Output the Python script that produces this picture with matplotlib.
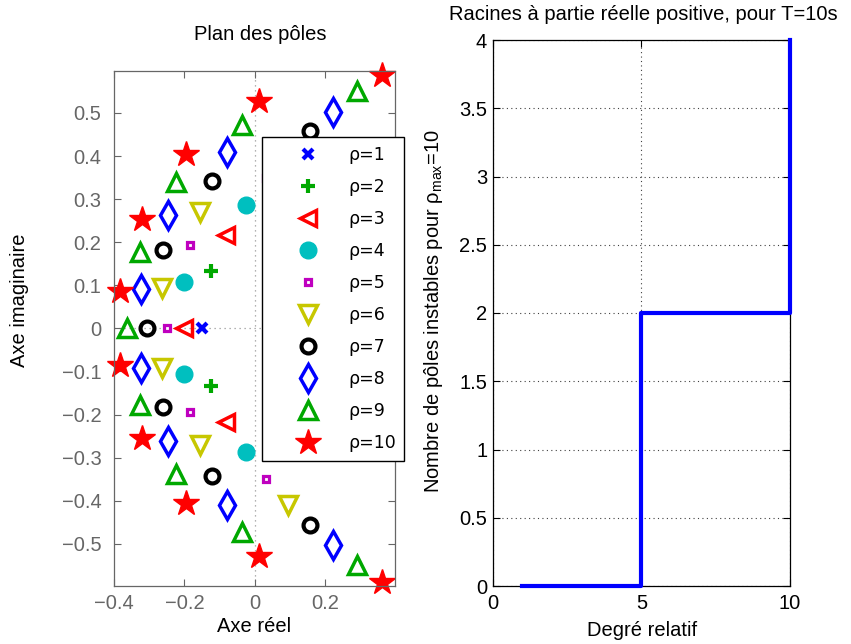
import numpy as np
import matplotlib
matplotlib.use('Agg')
import matplotlib.pyplot as plt
from matplotlib.ticker import FuncFormatter, FixedLocator

plt.rcParams['font.family'] = ['Liberation Sans', 'DejaVu Sans']
plt.rcParams['mathtext.fontset'] = 'custom'
plt.rcParams['mathtext.rm'] = 'Liberation Sans'
plt.rcParams['mathtext.it'] = 'Liberation Sans:italic'
plt.rcParams['mathtext.bf'] = 'Liberation Sans:bold'

# ---------------- data ----------------
rho_values = [1, 2, 3, 4, 5, 6, 7, 8, 9, 10]
# roots with non-negative imaginary part (conjugates are also drawn)
pole_re = [
    [-0.151],
    [-0.125],
    [-0.202, -0.083],
    [-0.201, -0.024],
    [-0.249, -0.184, 0.033],
    [-0.263, -0.156, 0.095],
    [-0.305, -0.261, -0.122, 0.156],
    [-0.323, -0.246, -0.080, 0.223],
    [-0.362, -0.327, -0.225, -0.036, 0.291],
    [-0.382, -0.320, -0.196, 0.011, 0.362],
]
pole_im = [
    [0.0],
    [0.133],
    [0.0, 0.217],
    [0.107, 0.287],
    [0.0, 0.194, 0.349],
    [0.093, 0.270, 0.409],
    [0.0, 0.182, 0.343, 0.457],
    [0.091, 0.262, 0.409, 0.502],
    [0.0, 0.178, 0.339, 0.473, 0.550],
    [0.086, 0.254, 0.405, 0.528, 0.588],
]
degree = [1, 2, 3, 4, 5, 6, 7, 8, 9, 10]
n_unstable = [0, 0, 0, 0, 2, 2, 2, 2, 2, 4]

left_xticks = [-0.4, -0.2, 0.0, 0.2]
left_yticks = [-0.5, -0.4, -0.3, -0.2, -0.1, 0.0, 0.1, 0.2, 0.3, 0.4, 0.5]
right_xticks = [0, 5, 10]
right_yticks = [0, 0.5, 1, 1.5, 2, 2.5, 3, 3.5, 4]

# ---------------- styles ----------------
BLUE = (0, 0, 1)
GREEN = (0, 0.66, 0)
RED = (1, 0, 0)
CYAN = (0, 0.75, 0.75)
MAG = (0.75, 0, 0.75)
YEL = (0.78, 0.78, 0)
BLK = (0, 0, 0)
styles = [
    dict(marker='x', color=BLUE, ms=7.5, mew=3),
    dict(marker='+', color=GREEN, ms=9.5, mew=3),
    dict(marker='<', color=RED, ms=12, mfc='none', mew=2.5),
    dict(marker='o', color=CYAN, ms=12, mfc=CYAN, mew=1),
    dict(marker='s', color=MAG, ms=4.5, mfc='none', mew=2.3),
    dict(marker='v', color=YEL, ms=13, mfc='none', mew=2.5),
    dict(marker='o', color=BLK, ms=10, mfc='none', mew=3),
    dict(marker='d', color=BLUE, ms=14, mfc='none', mew=2.5),
    dict(marker='^', color=GREEN, ms=13, mfc='none', mew=2.5),
    dict(marker='*', color=RED, ms=19, mfc=RED, mew=1),
]

FS = 14.5
W, H = 851, 644
fig = plt.figure(figsize=(W / 100, H / 100), dpi=100)

def fx(px):
    return px / W

def fy(py):
    return 1 - py / H

def gfmt(v, pos=None):
    s = '%g' % v
    if s.startswith('-'):
        s = '\u2212' + s[1:]
    return s

# ---------------- left: poles ----------------
ax1 = fig.add_axes([fx(114), fy(586), fx(395) - fx(114), fy(70.7) - fy(586)])
ax1.axhline(0, color='0.6', ls=(0, (1, 3)), lw=0.9, zorder=0)
ax1.axvline(0, color='0.6', ls=(0, (1, 3)), lw=0.9, zorder=0)
handles = []
for rho, re, im, st in zip(rho_values, pole_re, pole_im, styles):
    re = np.array(re)
    im = np.array(im)
    xs = np.concatenate([re, re[im > 0]])
    ys = np.concatenate([im, -im[im > 0]])
    st = dict(st)
    col = st.pop('color')
    mfc = st.pop('mfc', col)
    h, = ax1.plot(xs, ys, ls='none', color=col, mec=col, mfc=mfc,
                  clip_on=False, label='\u03c1=%d' % rho, **st)
    handles.append(h)
ax1.set_xlim(-0.4, 0.398)
ax1.set_ylim(-0.598, 0.598)
ax1.xaxis.set_major_locator(FixedLocator(left_xticks))
ax1.yaxis.set_major_locator(FixedLocator(left_yticks))
ax1.xaxis.set_major_formatter(FuncFormatter(gfmt))
ax1.yaxis.set_major_formatter(FuncFormatter(gfmt))
GRAY = '0.4'
ax1.tick_params(direction='in', length=5, width=0.8, top=True, right=True,
                colors=GRAY, labelsize=FS, labelcolor=GRAY)
ax1.tick_params(axis='y', pad=9)
ax1.tick_params(axis='x', pad=6)
for sp in ax1.spines.values():
    sp.set_color(GRAY)
    sp.set_linewidth(0.9)

leg = ax1.legend(handles=handles, loc='upper left',
                 bbox_to_anchor=(fx(262), fy(137)), bbox_transform=fig.transFigure,
                 borderaxespad=0, fancybox=False, framealpha=1, edgecolor='black',
                 prop={'family': 'DejaVu Sans', 'size': 12.5}, numpoints=1,
                 handlelength=4.3, handletextpad=0.15, labelspacing=0.81,
                 borderpad=0.5)
leg.get_frame().set_linewidth(1.0)
leg.set_zorder(10)

fig.text(fx(260), fy(40), 'Plan des p\u00f4les', ha='center', va='baseline', fontsize=FS)
fig.text(fx(254), fy(632), 'Axe r\u00e9el', ha='center', va='baseline', fontsize=FS)
fig.text(fx(20), fy(300), 'Axe imaginaire', ha='center', va='center', rotation=90, fontsize=FS)

# ---------------- right: unstable poles ----------------
ax2 = fig.add_axes([fx(492.7), fy(586), fx(790) - fx(492.7), fy(40) - fy(586)])
ax2.step(degree, n_unstable, where='post', color=BLUE, lw=3, clip_on=False, zorder=3)
ax2.set_xlim(0, 10)
ax2.set_ylim(0, 4)
ax2.xaxis.set_major_locator(FixedLocator(right_xticks))
ax2.yaxis.set_major_locator(FixedLocator(right_yticks))
ax2.xaxis.set_major_formatter(FuncFormatter(gfmt))
ax2.yaxis.set_major_formatter(FuncFormatter(gfmt))
ax2.grid(True, ls=(0, (1, 3)), color='0.25', lw=0.8)
ax2.tick_params(direction='in', length=5, width=0.8, top=True, right=True,
                labelsize=FS)
ax2.tick_params(axis='y', pad=4)
ax2.tick_params(axis='x', pad=6)
for sp in ax2.spines.values():
    sp.set_linewidth(0.9)

fig.text(fx(643), fy(20), 'Racines \u00e0 partie r\u00e9elle positive, pour T=10s',
         ha='center', va='baseline', fontsize=FS)
fig.text(fx(642), fy(636), 'Degr\u00e9 relatif', ha='center', va='baseline', fontsize=FS)
fig.text(fx(433), fy(311), 'Nombre de p\u00f4les instables pour \u03c1$_{\\mathrm{max}}$=10',
         ha='center', va='center', rotation=90, fontsize=FS)

fig.savefig('out.png', dpi=100)
